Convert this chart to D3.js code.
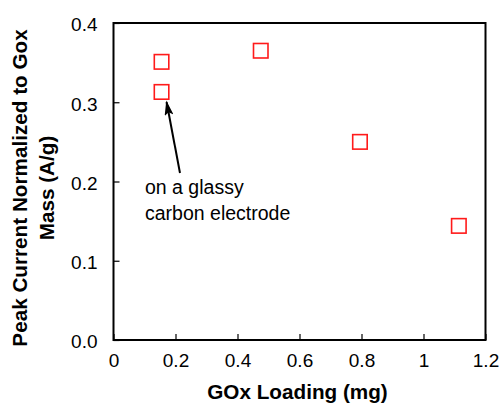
<!DOCTYPE html>
<html>
<head>
<meta charset="utf-8">
<script src="https://cdn.jsdelivr.net/npm/d3@7"></script>
<style>
  html, body { margin: 0; padding: 0; background: #fff; }
  svg { display: block; font-family: "Liberation Sans", Arial, sans-serif; }
</style>
</head>
<body>
<svg id="chart" width="500" height="404"></svg>
<script>
// GOx loading (mg) and peak current normalized to GOx mass (A/g)
const loading = [0.155, 0.155, 0.475, 0.795, 1.114];
const peakCurrent = [0.351, 0.313, 0.365, 0.250, 0.144];
const xTicks = [0, 0.2, 0.4, 0.6, 0.8, 1, 1.2];
const yTicks = [0, 0.1, 0.2, 0.3, 0.4];
const xTickLabels = ["0", "0.2", "0.4", "0.6", "0.8", "1", "1.2"];
const yTickLabels = ["0.0", "0.1", "0.2", "0.3", "0.4"];

const svg = d3.select("#chart");
const m = { left: 113.5, right: 485.5, top: 23, bottom: 340 };

const x = d3.scaleLinear().domain([0, 1.2]).range([m.left, m.right]);
const y = d3.scaleLinear().domain([0, 0.4]).range([m.bottom, m.top]);

// frame
svg.append("rect")
  .attr("x", m.left).attr("y", m.top)
  .attr("width", m.right - m.left).attr("height", m.bottom - m.top)
  .attr("fill", "none").attr("stroke", "#000").attr("stroke-width", 2);

// x axis, ticks pointing inward
const xAxis = svg.append("g")
  .attr("transform", `translate(0,${m.bottom})`)
  .call(d3.axisBottom(x).tickValues(xTicks).tickSize(-6)
    .tickFormat((d, i) => xTickLabels[i]));
xAxis.select(".domain").remove();
xAxis.selectAll("line").attr("stroke", "#000").attr("stroke-width", 1.2);
xAxis.selectAll("text").attr("font-size", 19).attr("fill", "#000")
  .attr("dy", null).attr("y", 26.7);

// y axis, ticks pointing inward
const yAxis = svg.append("g")
  .attr("transform", `translate(${m.left},0)`)
  .call(d3.axisLeft(y).tickValues(yTicks).tickSize(-6)
    .tickFormat((d, i) => yTickLabels[i]).tickPadding(16));
yAxis.select(".domain").remove();
yAxis.selectAll("line").attr("stroke", "#000").attr("stroke-width", 1.2);
yAxis.selectAll("text").attr("font-size", 19).attr("fill", "#000")
  .attr("dy", "0.42em");

// data markers: open red squares
const s = 14.5;
svg.append("g").selectAll("rect")
  .data(loading.map((d, i) => [d, peakCurrent[i]]))
  .join("rect")
  .attr("x", d => x(d[0]) - s / 2)
  .attr("y", d => y(d[1]) - s / 2)
  .attr("width", s).attr("height", s)
  .attr("fill", "none").attr("stroke", "#ff1a1a").attr("stroke-width", 1.6);

// annotation arrow pointing at the glassy carbon point
const tip = [x(loading[1]) + 5, y(peakCurrent[1]) + 10];
const tail = [180, 173];
svg.append("defs").append("marker")
  .attr("id", "ah").attr("viewBox", "0 0 10 10")
  .attr("refX", 9).attr("refY", 5)
  .attr("markerWidth", 7.5).attr("markerHeight", 4.5)
  .attr("markerUnits", "strokeWidth")
  .attr("orient", "auto")
  .attr("preserveAspectRatio", "none")
  .append("path").attr("d", "M0,0 L10,5 L0,10 L2,5 Z").attr("fill", "#000");
svg.append("line")
  .attr("x1", tail[0]).attr("y1", tail[1])
  .attr("x2", tip[0]).attr("y2", tip[1])
  .attr("stroke", "#000").attr("stroke-width", 2)
  .attr("marker-end", "url(#ah)");

const note = svg.append("text")
  .attr("font-size", 19.5).attr("fill", "#000");
note.append("tspan").attr("x", 145).attr("y", 193.5).text("on a glassy");
note.append("tspan").attr("x", 145).attr("y", 220).text("carbon electrode");

// axis titles
svg.append("text")
  .attr("x", 297.5).attr("y", 399)
  .attr("text-anchor", "middle")
  .attr("font-size", 20.7).attr("font-weight", "bold")
  .text("GOx Loading (mg)");

const yt = svg.append("text")
  .attr("transform", "translate(0,188) rotate(-90)")
  .attr("text-anchor", "middle")
  .attr("font-size", 20.7).attr("font-weight", "bold");
yt.append("tspan").attr("x", 0).attr("y", 27).text("Peak Current Normalized to Gox");
yt.append("tspan").attr("x", 0).attr("y", 54).text("Mass (A/g)");
</script>
</body>
</html>
